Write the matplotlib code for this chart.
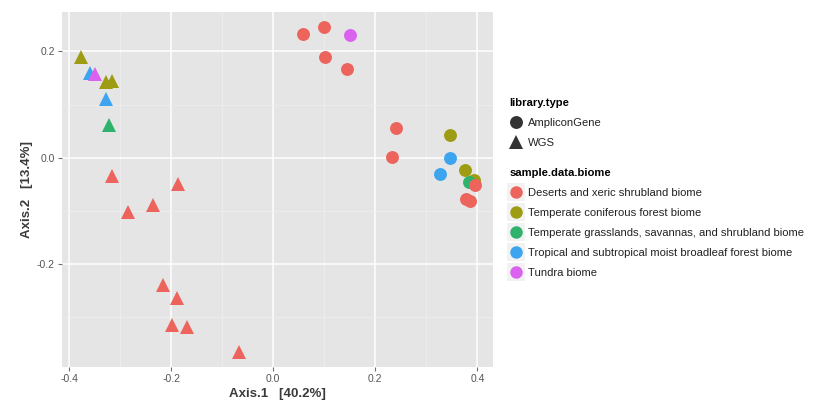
import matplotlib.pyplot as plt
from matplotlib.lines import Line2D

plt.rcParams['font.family'] = ['Liberation Sans', 'DejaVu Sans']

# Ordination coordinates
axis1 = [-0.376, -0.360, -0.350, -0.328, -0.316, -0.328, -0.322, -0.316, -0.187,
         -0.284, -0.235, -0.216, -0.189, -0.199, -0.169, -0.067,
         0.059, 0.099, 0.150, 0.102, 0.144, 0.241, 0.233, 0.346, 0.346,
         0.326, 0.376, 0.394, 0.383, 0.396, 0.378, 0.385]
axis2 = [0.190, 0.159, 0.158, 0.142, 0.145, 0.111, 0.061, -0.035, -0.049,
         -0.101, -0.088, -0.239, -0.264, -0.314, -0.317, -0.364,
         0.233, 0.246, 0.231, 0.190, 0.167, 0.056, 0.001, 0.043, -0.001,
         -0.030, -0.023, -0.041, -0.046, -0.051, -0.078, -0.082]
library_type = ['WGS'] * 16 + ['AmpliconGene'] * 16
biome_idx = [1, 3, 4, 1, 1, 3, 2, 0, 0, 0, 0, 0, 0, 0, 0, 0,
             0, 0, 4, 0, 0, 0, 0, 1, 3, 3, 1, 1, 2, 0, 0, 0]

biomes = ['Deserts and xeric shrubland biome',
          'Temperate coniferous forest biome',
          'Temperate grasslands, savannas, and shrubland biome',
          'Tropical and subtropical moist broadleaf forest biome',
          'Tundra biome']
lib_types = ['AmpliconGene', 'WGS']
x_ticks = [-0.4, -0.2, 0.0, 0.2, 0.4]
y_ticks = [-0.2, 0.0, 0.2]

colors = ['#EC645C', '#9E9C12', '#2FB26C', '#3DA5EF', '#DA62EE']
shapes = {'AmpliconGene': 'o', 'WGS': '^'}
sizes = {'AmpliconGene': 9.3, 'WGS': 10.2}

fig = plt.figure(figsize=(8.23, 4.04), dpi=100)
ax = fig.add_axes([0.0753, 0.0916, 0.524, 0.879])
ax.set_facecolor('#E5E5E5')

for xv, yv, lt, b in zip(axis1, axis2, library_type, biome_idx):
    ax.plot(xv, yv, marker=shapes[lt], color=colors[b], markersize=sizes[lt],
            markeredgewidth=0, linestyle='none', zorder=3)

ax.set_xlim(-0.414, 0.431)
ax.set_ylim(-0.393, 0.274)
ax.set_xticks(x_ticks)
ax.set_xticklabels(['%.1f' % v for v in x_ticks])
ax.set_yticks(y_ticks)
ax.set_yticklabels(['%.1f' % v for v in y_ticks])
ax.set_xticks([-0.3, -0.1, 0.1, 0.3], minor=True)
ax.set_yticks([-0.3, -0.1, 0.1], minor=True)
ax.grid(True, which='major', color='white', linewidth=1.1, zorder=0)
ax.grid(True, which='minor', color='#F0F0F0', linewidth=0.5, zorder=0)
ax.set_axisbelow(True)
for s in ax.spines.values():
    s.set_visible(False)
ax.tick_params(which='major', length=3, color='#6E6E6E', labelsize=7.5,
               labelcolor='#555555', pad=2)
ax.tick_params(which='minor', length=0)

ax.set_xlabel('Axis.1   [40.2%]', fontsize=9.5, color='#3A3A3A', fontweight='bold',
              labelpad=3)
ax.set_ylabel('Axis.2   [13.4%]', fontsize=9.5, color='#3A3A3A', fontweight='bold',
              labelpad=3)

leg_kw = dict(loc='upper left', frameon=False, fontsize=8.1, alignment='left',
              title_fontproperties={'weight': 'bold', 'size': 8.1},
              handlelength=1.2, handletextpad=0.45, labelspacing=0.88,
              borderpad=0, borderaxespad=0, labelcolor='#222222')

shape_handles = [Line2D([], [], marker=shapes[t], color='#333333', linestyle='none',
                        markersize=sizes[t], markeredgewidth=0) for t in lib_types]
leg1 = fig.legend(shape_handles, lib_types, title='library.type',
                  bbox_to_anchor=(0.619, 0.757), **leg_kw)

color_handles = []
for c in colors:
    bg = Line2D([], [], marker='s', color='#F2F2F2', markersize=12.5, linestyle='none',
                markeredgewidth=0)
    dot = Line2D([], [], marker='o', color=c, markersize=9, linestyle='none',
                 markeredgewidth=0)
    color_handles.append((bg, dot))
leg2 = fig.legend(color_handles, biomes, title='sample.data.biome',
                  bbox_to_anchor=(0.619, 0.583), **leg_kw)

fig.savefig('out.png', dpi=100)
